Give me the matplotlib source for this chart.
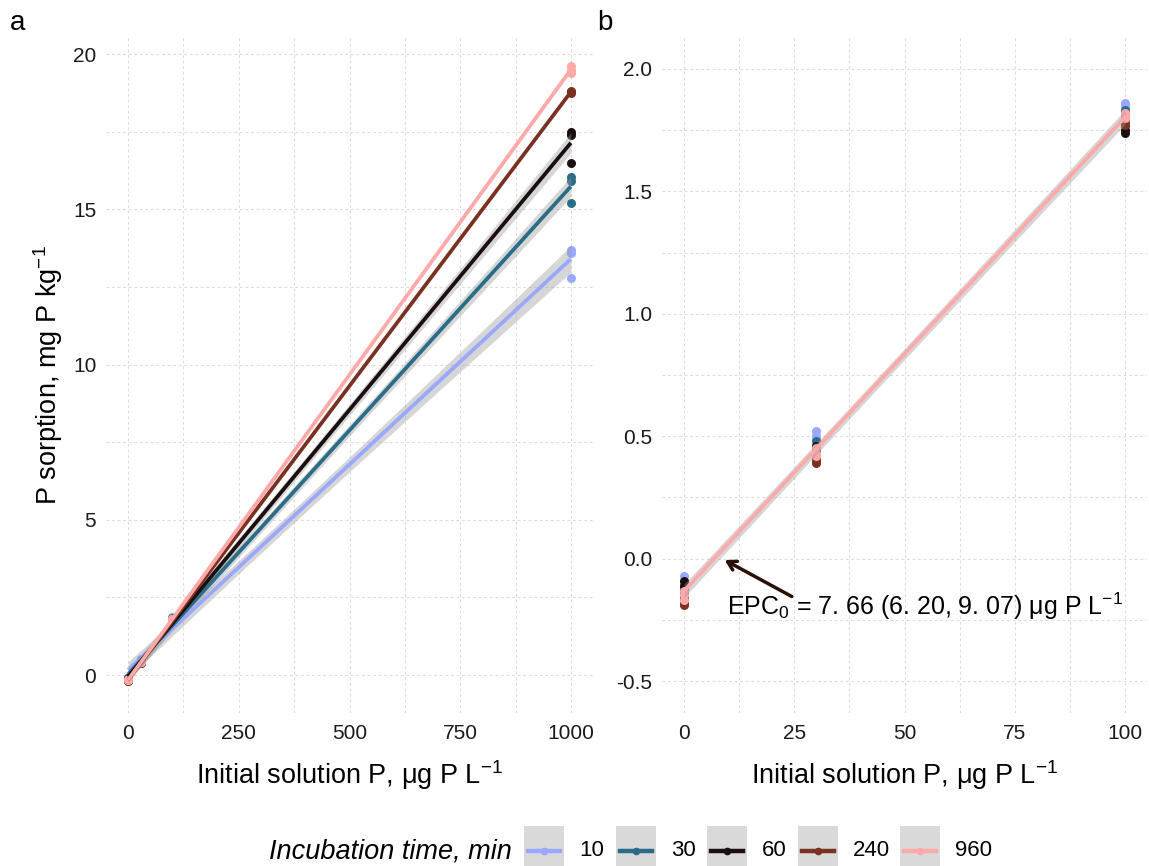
#!/usr/bin/env python3
"""P sorption vs initial solution P, by incubation time (panels a and b)."""

import numpy as np
import matplotlib
matplotlib.use('Agg')
import matplotlib.pyplot as plt
from matplotlib.patches import Rectangle
from matplotlib.lines import Line2D

plt.rcParams['font.family'] = ['Liberation Sans', 'DejaVu Sans']
plt.rcParams['mathtext.fontset'] = 'custom'
plt.rcParams['mathtext.rm'] = 'Liberation Sans'
plt.rcParams['mathtext.it'] = 'Liberation Sans:italic'

# ---- data -------------------------------------------------------------
P_INITIAL = [0, 30, 100, 1000]          # ug P / L
INCUBATION = ['10', '30', '60', '240', '960']
COLORS = ['#9AA8FF', '#2B6C88', '#1B0E0E', '#7A3121', '#FFA9A9']

# three replicates at each initial P (rows follow P_INITIAL)
SORP_10 = [[-0.07, -0.09, -0.11], [0.52, 0.50, 0.49], [1.86, 1.85, 1.84], [13.70, 13.60, 12.80]]
SORP_30 = [[-0.11, -0.13, -0.15], [0.48, 0.46, 0.45], [1.83, 1.82, 1.80], [16.05, 15.90, 15.20]]
SORP_60 = [[-0.09, -0.11, -0.13], [0.46, 0.44, 0.43], [1.77, 1.75, 1.74], [17.50, 17.40, 16.50]]
SORP_240 = [[-0.16, -0.18, -0.19], [0.41, 0.40, 0.39], [1.80, 1.78, 1.77], [18.80, 18.78, 18.75]]
SORP_960 = [[-0.13, -0.15, -0.17], [0.45, 0.43, 0.42], [1.82, 1.81, 1.80], [19.60, 19.50, 19.40]]
SORPTION = [SORP_10, SORP_30, SORP_60, SORP_240, SORP_960]

EPC0 = 7.66
EPC_LABEL = r'EPC$_0$ = 7. 66 (6. 20, 9. 07) μg P L$^{-1}$'

T_CRIT_GROUP = 2.228    # t(0.975, df=10)
T_CRIT_POOLED = 2.017   # t(0.975, df=43)

RIBBON = '#999999'
GRID = '#dcdcdc'

W, H = 1149, 866


def long_form(values, xmax):
    xs, ys = [], []
    for x, reps in zip(P_INITIAL, values):
        if x > xmax:
            continue
        xs += [x] * len(reps)
        ys += reps
    return np.array(xs, float), np.array(ys, float)


def lm_band(x, y, grid, t):
    b, a = np.polyfit(x, y, 1)
    fit = a + b * grid
    resid = y - (a + b * x)
    s = np.sqrt(np.sum(resid ** 2) / (len(x) - 2))
    se = s * np.sqrt(1 / len(x) + (grid - x.mean()) ** 2 / np.sum((x - x.mean()) ** 2))
    return fit, fit - t * se, fit + t * se


def style_axes(ax, xmaj, xmin_, ymaj, ymin_):
    lims = ax.get_xlim(), ax.get_ylim()
    ax.set_xticks(xmaj)
    ax.set_xticks(xmin_, minor=True)
    ax.set_yticks(ymaj)
    ax.set_yticks(ymin_, minor=True)
    ax.set_xlim(*lims[0])
    ax.set_ylim(*lims[1])
    ax.grid(which='both', color=GRID, linestyle=(0, (2.5, 2.5)), linewidth=0.8)
    ax.set_axisbelow(True)
    for s in ax.spines.values():
        s.set_visible(False)
    ax.tick_params(which='both', length=0, labelsize=15, colors='#1a1a1a')
    ax.tick_params(axis='x', pad=8)
    ax.tick_params(axis='y', pad=7)


def fig_rect(l, t, r, b):
    return [l / W, 1 - b / H, (r - l) / W, (b - t) / H]


fig = plt.figure(figsize=(W / 100, H / 100), dpi=100)

# ---- panel a ----------------------------------------------------------
ax_a = fig.add_axes(fig_rect(106, 37, 593, 713))
grid_a = np.linspace(0, 1000, 200)
for vals, col in zip(SORPTION, COLORS):
    x, y = long_form(vals, 1000)
    ax_a.scatter(x, y, s=42, color=col, zorder=3, linewidths=0)
for vals, col in zip(SORPTION, COLORS):
    x, y = long_form(vals, 1000)
    fit, lo, hi = lm_band(x, y, grid_a, T_CRIT_GROUP)
    ax_a.fill_between(grid_a, lo, hi, color=RIBBON, alpha=0.4, linewidth=0, zorder=4)
    ax_a.plot(grid_a, fit, color=col, lw=2.7, zorder=5, solid_capstyle='butt')

ax_a.set_xlim(-50, 1050)
ax_a.set_ylim(-1.22, 20.55)
style_axes(ax_a, [0, 250, 500, 750, 1000], [125, 375, 625, 875],
           [0, 5, 10, 15, 20], [2.5, 7.5, 12.5, 17.5])
ax_a.set_xlabel('Initial solution P, μg P L$^{-1}$', fontsize=19.5, labelpad=11)
ax_a.set_ylabel('P sorption, mg P kg$^{-1}$', fontsize=19.5, labelpad=6)

# ---- panel b ----------------------------------------------------------
ax_b = fig.add_axes(fig_rect(662, 37, 1147, 713))
grid_b = np.linspace(0, 100, 200)
for vals, col in zip(SORPTION, COLORS):
    x, y = long_form(vals, 100)
    ax_b.scatter(x, y, s=42, color=col, zorder=3, linewidths=0)

pooled = [long_form(v, 100) for v in SORPTION]
xp = np.concatenate([p[0] for p in pooled])
yp = np.concatenate([p[1] for p in pooled])
fit, lo, hi = lm_band(xp, yp, grid_b, T_CRIT_POOLED)
ax_b.fill_between(grid_b, lo - 0.012, hi + 0.012, color=RIBBON, alpha=0.4,
                  linewidth=0, zorder=4)
ax_b.plot(grid_b, fit, color=COLORS[-1], lw=2.7, zorder=5)

ax_b.set_xlim(-5, 105)
ax_b.set_ylim(-0.63, 2.13)
style_axes(ax_b, [0, 25, 50, 75, 100], [12.5, 37.5, 62.5, 87.5],
           [-0.5, 0.0, 0.5, 1.0, 1.5, 2.0], [-0.25, 0.25, 0.75, 1.25, 1.75])
ax_b.set_yticklabels(['-0.5', '0.0', '0.5', '1.0', '1.5', '2.0'])
ax_b.set_xlabel('Initial solution P, μg P L$^{-1}$', fontsize=19.5, labelpad=11)

ax_b.annotate('', xy=(EPC0 + 1.0, 0.0), xytext=(25, -0.16),
              arrowprops=dict(arrowstyle='->,head_length=0.6,head_width=0.35',
                              color='#2a0f0a', lw=2.5), zorder=6)
ax_b.text(9.8, -0.195, EPC_LABEL, fontsize=18, ha='left', va='center',
          color='black', zorder=7)

# panel tags
fig.text(10 / W, 1 - 23 / H, 'a', fontsize=20, ha='left', va='center')
fig.text(597 / W, 1 - 23 / H, 'b', fontsize=20, ha='left', va='center')

# ---- legend (bottom) ----------------------------------------------------
leg_y = 851
fig.text(512 / W, 1 - leg_y / H, 'Incubation time, min', fontsize=19.5,
         style='italic', ha='right', va='center')
key_left = [524, 616, 707, 798, 900]
for x0, lab, col in zip(key_left, INCUBATION, COLORS):
    fig.patches.append(Rectangle((x0 / W, 1 - 868 / H), 40 / W, 42 / H,
                                 transform=fig.transFigure, facecolor='#d9d9d9',
                                 edgecolor='none'))
    fig.lines.append(Line2D([(x0 + 4) / W, (x0 + 36) / W], [1 - leg_y / H] * 2,
                            transform=fig.transFigure, color=col, lw=3.2))
    fig.lines.append(Line2D([(x0 + 20) / W], [1 - leg_y / H],
                            transform=fig.transFigure, color=col, marker='o',
                            markersize=5.5, markeredgewidth=0))
    fig.text((x0 + 55) / W, 1 - leg_y / H, lab, fontsize=16, ha='left',
             va='center')

fig.savefig('out.png', dpi=100, facecolor='white')
